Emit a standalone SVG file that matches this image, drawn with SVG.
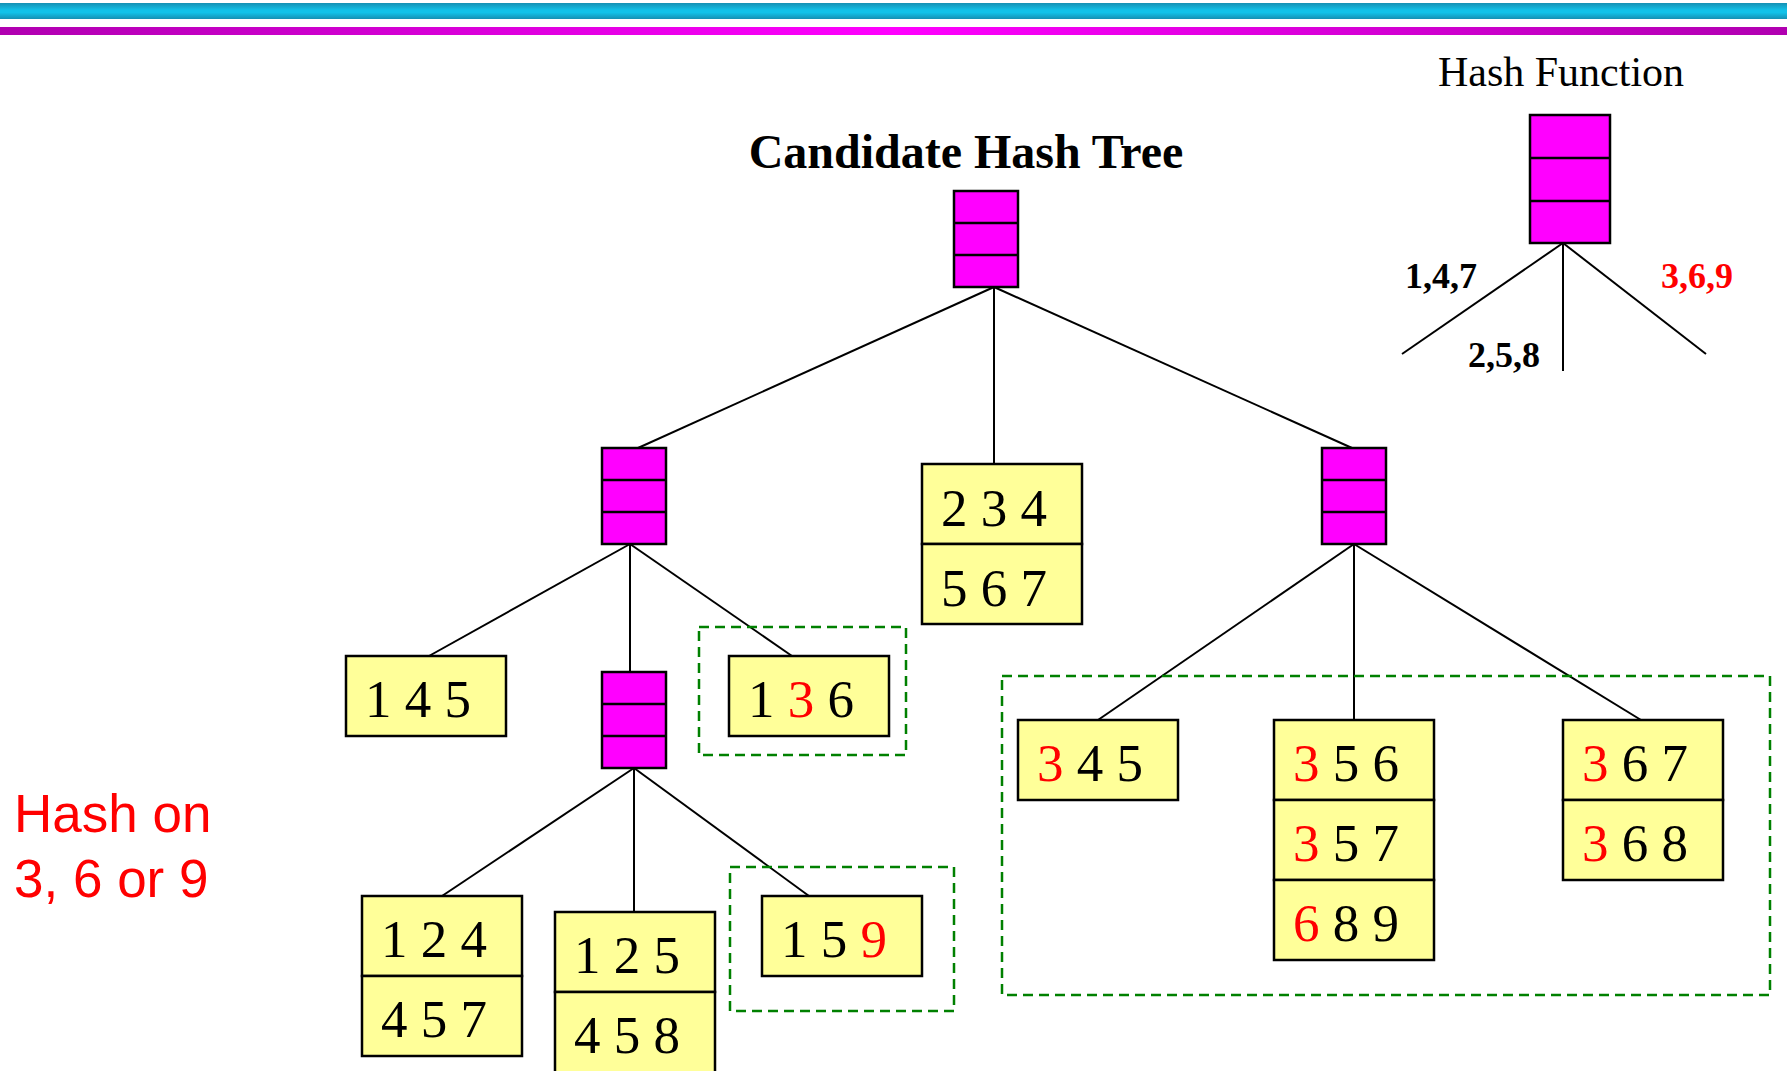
<svg xmlns="http://www.w3.org/2000/svg" width="1787" height="1071" viewBox="0 0 1787 1071">
  <defs>
    <linearGradient id="barCyan" x1="0" y1="0" x2="0" y2="1">
      <stop offset="0" stop-color="#1590b3"/>
      <stop offset="0.45" stop-color="#12c2e9"/>
      <stop offset="0.6" stop-color="#12c2e9"/>
      <stop offset="1" stop-color="#1590b3"/>
    </linearGradient>
    <linearGradient id="barMagenta" x1="0" y1="0" x2="1" y2="0">
      <stop offset="0" stop-color="#b000b0"/>
      <stop offset="0.5" stop-color="#ff00ff"/>
      <stop offset="1" stop-color="#b000b0"/>
    </linearGradient>
  </defs>
  <style>
    .hash { fill: #ff00ff; stroke: #000; stroke-width: 2.5; }
    .div { stroke: #000; stroke-width: 2.5; }
    .leaf { fill: #ffff99; stroke: #000; stroke-width: 2.5; }
    .edge { stroke: #000; stroke-width: 2; fill: none; }
    .group { fill: none; stroke: #008000; stroke-width: 2.5; stroke-dasharray: 10 6; }
    .num { font-family: "Liberation Serif", "Times New Roman", serif; font-size: 53px; fill: #000; }
    .title { font-family: "Liberation Serif", "Times New Roman", serif; font-weight: bold; font-size: 48px; fill: #000; }
    .sub { font-family: "Liberation Serif", "Times New Roman", serif; font-size: 42px; fill: #000; }
    .branch { font-family: "Liberation Serif", "Times New Roman", serif; font-weight: bold; font-size: 36px; fill: #000; }
    .note { font-family: "Liberation Sans", Arial, sans-serif; font-size: 53px; fill: #ff0000; }
    text .hi, text.hi { fill: #ff0000; }
  </style>

  <rect width="1787" height="1071" fill="#fff"/>

  <!-- header bars -->
  <rect x="0" y="3" width="1787" height="16" fill="url(#barCyan)"/>
  <rect x="0" y="27" width="1787" height="8" fill="url(#barMagenta)"/>

  <!-- titles -->
  <text class="title" x="966" y="168" text-anchor="middle">Candidate Hash Tree</text>
  <text class="sub" x="1561" y="86" text-anchor="middle">Hash Function</text>
  <text class="note" x="14" y="832">Hash on</text>
  <text class="note" x="14" y="897">3, 6 or 9</text>

  <!-- connectors -->
  <g id="connectors">
    <line class="edge" x1="994" y1="287" x2="638" y2="448"/>
    <line class="edge" x1="994" y1="287" x2="994" y2="464"/>
    <line class="edge" x1="994" y1="287" x2="1352" y2="448"/>
    <line class="edge" x1="630" y1="544" x2="429" y2="656"/>
    <line class="edge" x1="630" y1="544" x2="630" y2="672"/>
    <line class="edge" x1="630" y1="544" x2="792" y2="656"/>
    <line class="edge" x1="634" y1="768" x2="442" y2="896"/>
    <line class="edge" x1="634" y1="768" x2="634" y2="912"/>
    <line class="edge" x1="634" y1="768" x2="809" y2="896"/>
    <line class="edge" x1="1354" y1="544" x2="1098" y2="720"/>
    <line class="edge" x1="1354" y1="544" x2="1354" y2="720"/>
    <line class="edge" x1="1354" y1="544" x2="1641" y2="720"/>
    <line class="edge" x1="1563" y1="243" x2="1402" y2="354"/>
    <line class="edge" x1="1563" y1="243" x2="1563" y2="371"/>
    <line class="edge" x1="1563" y1="243" x2="1706" y2="354"/>
  </g>

  <!-- hash function legend -->
  <g id="hash-function">
    <rect class="hash" x="1530" y="115" width="80" height="128"/>
    <line class="div" x1="1530" y1="158" x2="1610" y2="158"/>
    <line class="div" x1="1530" y1="201" x2="1610" y2="201"/>
    <text class="branch" x="1405" y="288">1,4,7</text>
    <text class="branch" x="1468" y="367">2,5,8</text>
    <text class="branch hi" x="1661" y="288">3,6,9</text>
  </g>

  <!-- interior hash nodes -->
  <g id="root">
    <rect class="hash" x="954" y="191" width="64" height="96"/>
    <line class="div" x1="954" y1="223" x2="1018" y2="223"/>
    <line class="div" x1="954" y1="255" x2="1018" y2="255"/>
  </g>
  <g id="node-left">
    <rect class="hash" x="602" y="448" width="64" height="96"/>
    <line class="div" x1="602" y1="480" x2="666" y2="480"/>
    <line class="div" x1="602" y1="512" x2="666" y2="512"/>
  </g>
  <g id="node-mid">
    <rect class="hash" x="602" y="672" width="64" height="96"/>
    <line class="div" x1="602" y1="704" x2="666" y2="704"/>
    <line class="div" x1="602" y1="736" x2="666" y2="736"/>
  </g>
  <g id="node-right">
    <rect class="hash" x="1322" y="448" width="64" height="96"/>
    <line class="div" x1="1322" y1="480" x2="1386" y2="480"/>
    <line class="div" x1="1322" y1="512" x2="1386" y2="512"/>
  </g>

  <!-- leaf buckets -->
  <g id="leaf-234">
    <rect class="leaf" x="922" y="464" width="160" height="80"/>
    <rect class="leaf" x="922" y="544" width="160" height="80"/>
    <text class="num" x="941" y="526">2 3 4</text>
    <text class="num" x="941" y="606">5 6 7</text>
  </g>
  <g id="leaf-145">
    <rect class="leaf" x="346" y="656" width="160" height="80"/>
    <text class="num" x="365" y="717">1 4 5</text>
  </g>
  <g id="leaf-136">
    <rect class="leaf" x="729" y="656" width="160" height="80"/>
    <text class="num" x="748" y="717">1 <tspan class="hi">3</tspan> 6</text>
  </g>
  <g id="leaf-124">
    <rect class="leaf" x="362" y="896" width="160" height="80"/>
    <rect class="leaf" x="362" y="976" width="160" height="80"/>
    <text class="num" x="381" y="957">1 2 4</text>
    <text class="num" x="381" y="1037">4 5 7</text>
  </g>
  <g id="leaf-125">
    <rect class="leaf" x="555" y="912" width="160" height="80"/>
    <rect class="leaf" x="555" y="992" width="160" height="82"/>
    <text class="num" x="574" y="973">1 2 5</text>
    <text class="num" x="574" y="1053">4 5 8</text>
  </g>
  <g id="leaf-159">
    <rect class="leaf" x="762" y="896" width="160" height="80"/>
    <text class="num" x="781" y="957">1 5 <tspan class="hi">9</tspan></text>
  </g>
  <g id="leaf-345">
    <rect class="leaf" x="1018" y="720" width="160" height="80"/>
    <text class="num" x="1037" y="781"><tspan class="hi">3</tspan> 4 5</text>
  </g>
  <g id="leaf-356">
    <rect class="leaf" x="1274" y="720" width="160" height="80"/>
    <rect class="leaf" x="1274" y="800" width="160" height="80"/>
    <rect class="leaf" x="1274" y="880" width="160" height="80"/>
    <text class="num" x="1293" y="781"><tspan class="hi">3</tspan> 5 6</text>
    <text class="num" x="1293" y="861"><tspan class="hi">3</tspan> 5 7</text>
    <text class="num" x="1293" y="941"><tspan class="hi">6</tspan> 8 9</text>
  </g>
  <g id="leaf-367">
    <rect class="leaf" x="1563" y="720" width="160" height="80"/>
    <rect class="leaf" x="1563" y="800" width="160" height="80"/>
    <text class="num" x="1582" y="781"><tspan class="hi">3</tspan> 6 7</text>
    <text class="num" x="1582" y="861"><tspan class="hi">3</tspan> 6 8</text>
  </g>

  <!-- dashed groupings of buckets matched on 3, 6 or 9 -->
  <g id="groups">
    <rect class="group" x="699" y="627" width="207" height="128"/>
    <rect class="group" x="730" y="867" width="224" height="144"/>
    <rect class="group" x="1002" y="676" width="768" height="319"/>
  </g>
</svg>
